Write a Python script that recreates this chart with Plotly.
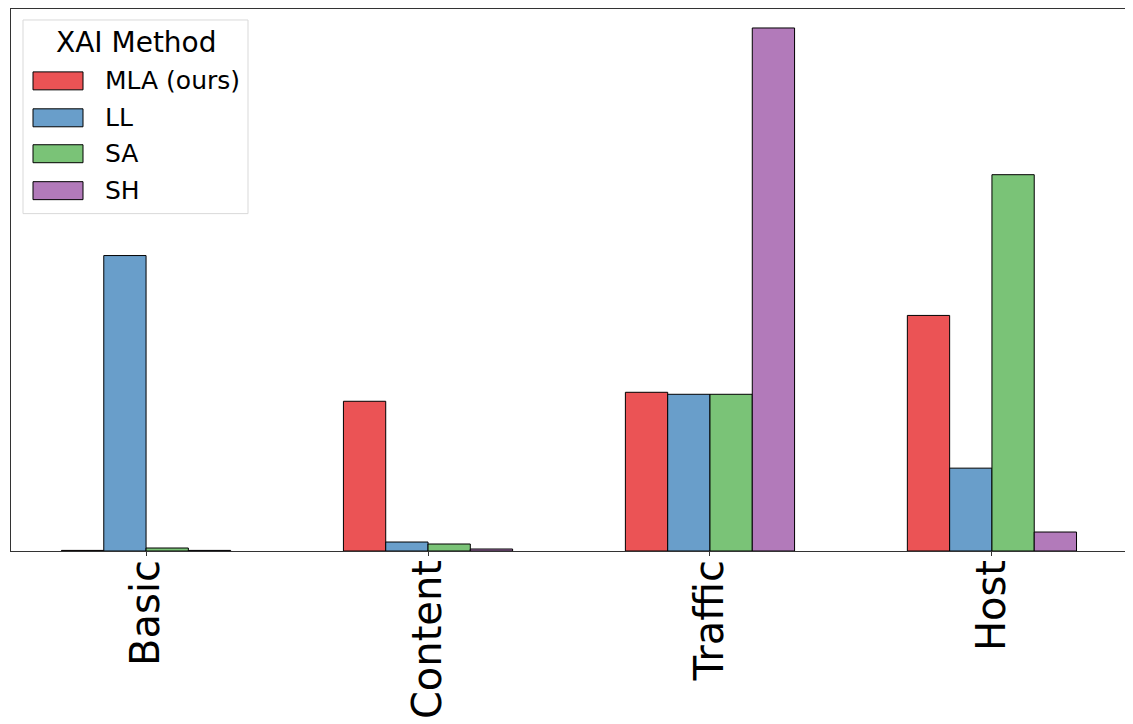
import plotly.graph_objects as go

# feature groups and XAI methods
groups = ["Basic", "Content", "Traffic", "Host"]
methods = ["MLA (ours)", "LL", "SA", "SH"]
colors = ["#EB5355", "#699ECA", "#7AC377", "#B27ABA"]

mla = [0.0006, 0.150, 0.159, 0.236]
ll = [0.296, 0.009, 0.157, 0.083]
sa = [0.003, 0.007, 0.157, 0.377]
sh = [0.0006, 0.002, 0.524, 0.019]
values = [mla, ll, sa, sh]

fig = go.Figure()
for name, vals, col in zip(methods, values, colors):
    fig.add_trace(go.Bar(
        x=groups, y=vals, name=name,
        marker=dict(color=col, line=dict(color="black", width=1)),
        showlegend=False,
    ))

# plot area in window pixels: x 11..1127, y 8..551
# (the page body adds an 8px offset, so the figure starts at 8,8)
OFF = 8
L, R, T, B = 11, 1127, 8, 551
px = lambda x: (x - L) / (R - L)
py = lambda y: (B - y) / (B - T)

# legend drawn by hand to get matplotlib-like wide patches
fig.add_shape(type="rect", xref="paper", yref="paper",
              x0=px(23), x1=px(248), y0=py(213), y1=py(19),
              line=dict(color="#d9d9d9", width=1), fillcolor="rgba(255,255,255,0.8)")
fig.add_annotation(text="XAI Method", xref="paper", yref="paper",
                   x=px(136), y=py(42), showarrow=False,
                   font=dict(size=28, color="black"), xanchor="center", yanchor="middle")
rows = [80, 117, 153, 190]
for name, col, yc in zip(methods, colors, rows):
    fig.add_shape(type="rect", xref="paper", yref="paper",
                  x0=px(33), x1=px(83), y0=py(yc + 9), y1=py(yc - 9),
                  line=dict(color="black", width=1), fillcolor=col)
    fig.add_annotation(text=name, xref="paper", yref="paper",
                       x=px(103), y=py(yc), showarrow=False,
                       font=dict(size=25, color="black"), xanchor="left", yanchor="middle")

W, H = 1133 - OFF, 724 - OFF
fig.update_layout(
    width=W, height=H,
    margin=dict(l=L - OFF, r=1133 - R, t=T - OFF + 1, b=724 - B, autoexpand=False),
    barmode="group", bargap=0.4, bargroupgap=0,
    plot_bgcolor="white", paper_bgcolor="white",
    font=dict(family="DejaVu Sans", color="black"),
)
fig.update_xaxes(
    range=[-0.479, 3.479], tickangle=-90,
    tickfont=dict(size=40, color="black"),
    ticks="outside", ticklen=4, tickcolor="#333",
    ticklabelstandoff=-12,
    showline=True, linecolor="#333", linewidth=1, mirror=True,
    showgrid=False, automargin=False,
)
fig.update_yaxes(
    range=[0, 0.543], showticklabels=False, ticks="",
    showline=True, linecolor="#333", linewidth=1, mirror=True,
    showgrid=False, zeroline=False,
)

fig.write_html("out.html")
